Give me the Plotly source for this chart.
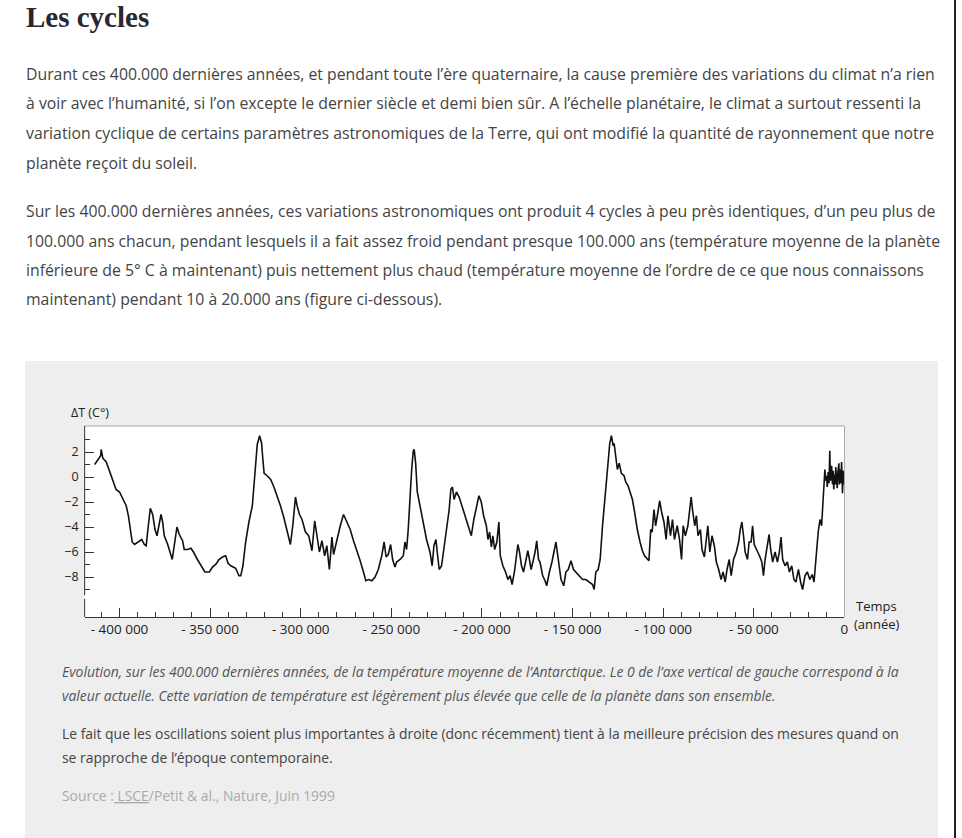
import plotly.graph_objects as go

W, H = 962, 838

# Antarctic temperature anomaly (°C) vs time (years)
years = [
    -413700, -411900, -410400, -410100, -409200, -407300, -405500, -403700, -401900, -400000,
    -398200, -396300, -395100, -394000, -393000, -391700, -389900, -387700, -386300, -385300,
    -384100, -383000, -381700, -380400, -379300, -378200, -377100, -376200, -375300, -373400,
    -372000, -370900, -369800, -368300, -367000, -365200, -364300, -362500, -360600, -359200,
    -357000, -354800, -352900, -350400, -348700, -346900, -345100, -343200, -341400, -340100,
    -338600, -335900, -334100, -333100,
    -331900, -330400, -328600, -326700, -325800, -324900, -324000, -322700, -321600, -320900,
    -320200, -318500, -316600, -314800, -313000, -311200, -309400, -307500, -305700, -304400,
    -302900, -302000, -300700, -299300, -297400, -295600, -293800, -292300, -291000, -289700,
    -288300, -286800, -285600, -284200, -282800, -281900, -280600, -279500, -278200, -276400,
    -274600, -272700, -270900, -269100, -267200, -265400, -264100, -262600, -260800, -259000,
    -257200, -255300, -254000, -252900, -251700, -250400, -249300, -248000,
    -247100, -245200, -243400, -242500, -241600, -240700, -239700, -238800, -237900, -237400,
    -236600, -235700, -234200, -232400, -230600, -228700, -227500, -226500, -225400, -224700,
    -223600, -222300, -220500, -219200, -218100, -217200, -216300, -215400, -214100, -212600,
    -211300, -209500, -207700, -205900, -204500, -203100, -201700, -200400, -199100, -197600,
    -196700, -195800, -194800, -194000, -193000, -191800, -190700, -189900, -188500, -187000,
    -185700, -184500, -183400, -182100, -181200, -180200, -179300, -178200, -177100, -176000,
    -174700, -173800, -172900, -171600, -170700, -169800, -168800, -168000, -166500, -165200,
    -164300, -162800, -161400,
    -159200, -157900, -156400, -154900, -153700, -152400, -150900, -149500, -148200, -146300,
    -144500, -142700, -140800, -139000, -138100, -137200, -135900, -134800, -133500, -132300,
    -131200, -130200, -129500, -128600, -127600, -127100, -126200, -125300, -124300, -123100,
    -121600, -120700, -119400, -118300, -117000, -115800, -114300, -112800, -111500, -110300,
    -108800, -107900, -106900, -106100, -105100, -104200, -102900, -102000, -100900, -99600,
    -98400, -97400, -96000, -94900, -93800, -92300, -91000, -89900, -89000, -87800,
    -86400, -85300, -84600, -83700, -82600, -81700, -80800, -79500, -78600, -77300,
    -76200,
    -75400, -74300, -73100, -71800, -70700, -69400, -68100, -67000, -65800, -64800,
    -63600, -62500, -61200, -59700, -58400, -57500, -56600, -55700, -54800, -53500,
    -52600, -51500, -50700, -49800, -48400, -46900, -45600, -44700, -43800, -42500,
    -41600, -40700, -39600, -38300, -37000, -35900, -35000, -34100, -32800, -31500,
    -30400, -29100, -27900, -26800, -25400, -24200, -23100, -21800, -20500, -19100,
    -17800, -16800, -16300, -15400, -14500, -13500, -12600, -12100, -11400,
    -10800, -10300, -9900, -9500, -9000, -8500, -8100, -7800, -7500, -7100,
    -6600, -6200, -5900, -5500, -5100, -4800, -4400, -4000, -3600, -3100,
    -2800, -2400, -2000, -1600, -1300, -1100, -700, -400, -100,
]
temps = [
    1.0, 1.4, 1.7, 2.2, 1.5, 1.2, 0.5, -0.2, -1.0, -1.2,
    -1.7, -2.3, -3.1, -4.4, -5.2, -5.4, -5.2, -5.0, -5.4, -5.5,
    -3.9, -2.5, -3.0, -4.2, -4.7, -3.9, -3.0, -3.6, -4.7, -5.4,
    -6.2, -6.6, -5.5, -4.0, -4.6, -5.1, -5.8, -5.8, -5.7, -6.0,
    -6.6, -7.1, -7.6, -7.6, -7.2, -7.0, -6.6, -6.4, -6.3, -6.9,
    -7.1, -7.3, -7.9, -7.9,
    -7.1, -5.2, -3.6, -2.3, -0.7, 1.4, 2.6, 3.3, 2.7, 1.4,
    0.3, 0.1, -0.2, -0.8, -1.5, -2.3, -3.2, -4.4, -5.4, -3.9,
    -1.6, -2.3, -3.0, -3.4, -4.4, -4.7, -5.9, -3.5, -4.7, -6.0,
    -5.1, -6.3, -5.5, -7.4, -4.8, -6.2, -5.4, -4.7, -3.9, -3.0,
    -3.6, -4.2, -5.1, -5.8, -6.7, -7.6, -8.3, -8.2, -8.3, -8.0,
    -7.4, -6.3, -5.2, -6.4, -6.2, -5.4, -6.6, -7.2,
    -6.8, -6.6, -6.3, -5.2, -5.8, -4.2, -1.2, 0.6, 2.1, 2.2,
    1.1, -1.2, -2.3, -3.6, -5.0, -6.0, -7.1, -5.5, -5.0, -6.0,
    -7.4, -7.1, -5.0, -3.4, -2.6, -1.0, -0.8, -1.8, -1.2, -1.6,
    -2.2, -3.0, -3.9, -4.7, -3.4, -2.3, -1.5, -2.0, -3.1, -3.9,
    -5.0, -4.4, -5.6, -4.7, -5.8, -5.2, -3.6, -6.3, -7.1, -7.6,
    -8.2, -7.9, -8.6, -7.6, -6.6, -5.4, -6.0, -7.1, -7.6, -6.8,
    -5.9, -6.6, -7.4, -6.6, -6.0, -5.1, -6.6, -6.8, -7.9, -8.3,
    -8.7, -7.6, -6.8,
    -5.2, -6.6, -8.2, -8.7, -7.6, -7.4, -6.7, -7.4, -7.6, -7.9,
    -8.2, -8.2, -8.4, -8.6, -9.0, -7.6, -7.4, -6.6, -3.9, -2.0,
    0.1, 1.4, 2.7, 3.3, 2.5, 2.7, 1.4, 0.6, 1.1, 0.3,
    0.1, -0.4, -0.7, -1.2, -1.8, -2.8, -4.2, -5.2, -5.9, -6.3,
    -6.6, -6.7, -4.2, -4.4, -2.6, -3.9, -2.8, -1.9, -2.8, -3.6,
    -5.0, -3.1, -4.7, -3.4, -5.0, -3.9, -5.0, -6.6, -3.9, -4.7,
    -3.9, -2.6, -1.6, -2.8, -3.9, -3.1, -4.7, -4.2, -5.8, -6.4,
    -5.0,
    -3.9, -6.0, -4.7, -5.5, -6.8, -7.4, -8.2, -7.6, -8.4, -7.4,
    -6.6, -7.9, -6.6, -6.0, -5.2, -4.2, -3.6, -4.7, -6.0, -6.6,
    -5.2, -5.2, -3.9, -5.4, -5.8, -6.3, -6.8, -7.9, -6.6, -5.2,
    -4.6, -5.8, -6.8, -6.0, -6.8, -6.0, -4.8, -6.6, -7.1, -6.8,
    -7.6, -7.1, -8.2, -8.4, -7.4, -8.4, -9.0, -7.9, -7.6, -8.2,
    -7.8, -8.4, -7.4, -5.8, -4.4, -3.4, -3.9, -2.6, -0.7,
    0.6, -0.3, 0.1, -0.8, 0.4, -0.5, 2.1, 0.2, -0.3, 0.9,
    -0.6, 0.5, -1.0, 0.2, -0.6, 0.8, -0.4, -0.9, 0.4, 1.1,
    -0.6, 0.6, -0.5, 1.2, 0.0, -1.3, 0.5, -0.6, 0.3,
]

x_range = [-419230, 0]
y_range = [-11.2, 4.08]
x_tick_vals = [-400000, -350000, -300000, -250000, -200000, -150000, -100000, -50000, 0]
x_tick_text = ["- 400 000", "- 350 000", "- 300 000", "- 250 000", "- 200 000",
               "- 150 000", "- 100 000", "- 50 000", "0"]
y_tick_vals = [-8, -6, -4, -2, 0, 2]
y_minor_vals = [-9, -7, -5, -3, -1, 1, 3]


def px(x):
    return x / W


def py(y):
    return 1 - y / H


fig = go.Figure()
fig.add_trace(go.Scatter(
    x=years, y=temps, mode="lines",
    line=dict(color="#111111", width=1.6),
    hoverinfo="skip", showlegend=False,
))

x_font = dict(family="Open Sans, Liberation Sans, sans-serif", size=13.5, color="#222222")
y_font = dict(family="Open Sans, Liberation Sans, sans-serif", size=12.5, color="#222222")

fig.update_layout(
    width=W, height=H, autosize=False,
    margin=dict(l=0, r=0, t=0, b=0, pad=0),
    paper_bgcolor="white", plot_bgcolor="white",
    showlegend=False,
    xaxis=dict(
        domain=[px(85), px(848)], range=x_range,
        tickmode="array", tickvals=x_tick_vals, ticktext=x_tick_text,
        ticks="inside", ticklen=9, tickwidth=1, tickcolor="#333333",
        showline=True, linecolor="#333333", linewidth=1,
        showgrid=False, zeroline=False, fixedrange=True,
        tickfont=x_font,
        minor=dict(dtick=10000, tick0=0, ticks="inside", ticklen=5,
                   tickwidth=1, tickcolor="#333333", showgrid=False),
    ),
    yaxis=dict(
        domain=[py(617), py(426)], range=y_range,
        tickmode="array", tickvals=y_tick_vals,
        ticks="inside", ticklen=9, tickwidth=1, tickcolor="#333333",
        ticklabelstandoff=5,
        showline=False, showgrid=False, zeroline=False, fixedrange=True,
        tickfont=y_font,
        minor=dict(tickvals=y_minor_vals, ticks="inside", ticklen=5,
                   tickwidth=1, tickcolor="#333333", showgrid=False),
    ),
)

shapes = [
    # grey figure box
    dict(type="rect", xref="paper", yref="paper", x0=px(25), x1=px(942), y0=0, y1=py(361),
         fillcolor="#eeeeee", line=dict(width=0), layer="below"),
    # white plot area
    dict(type="rect", xref="x domain", yref="y domain", x0=0, x1=1, y0=0, y1=1,
         fillcolor="white", line=dict(width=0), layer="below"),
    # top and right frame
    dict(type="line", xref="x domain", yref="y domain", x0=0, x1=1, y0=1, y1=1,
         line=dict(color="#a8a8a8", width=1)),
    dict(type="line", xref="x domain", yref="y domain", x0=1, x1=1, y0=0, y1=1,
         line=dict(color="#a8a8a8", width=1)),
    # broken y axis line
    dict(type="line", xref="x domain", yref="y", x0=0, x1=0, y0=y_range[0], y1=-9.75,
         line=dict(color="#333333", width=1)),
    dict(type="line", xref="x domain", yref="y", x0=0, x1=0, y0=-9.45, y1=y_range[1],
         line=dict(color="#333333", width=1)),
    # page right border
    dict(type="line", xref="paper", yref="paper", x0=px(959), x1=px(959), y0=0, y1=1,
         line=dict(color="#222222", width=2)),
]
fig.update_layout(shapes=shapes)

body_font = "Open Sans, Liberation Sans, sans-serif"
annotations = []


def add_text(text, x, y, size, color, family=body_font, xanchor="left"):
    annotations.append(dict(
        text=text, x=px(x), y=py(y), xref="paper", yref="paper",
        xanchor=xanchor, yanchor="middle", showarrow=False, align="left",
        font=dict(family=family, size=size, color=color),
    ))


add_text("<b>Les cycles</b>", 24, 17, 29, "#2b2631", family="Liberation Serif, serif")

para_lines = [
    ("Durant ces 400.000 dernières années, et pendant toute l’ère quaternaire, la cause première des variations du climat n’a rien", 74),
    ("à voir avec l’humanité, si l’on excepte le dernier siècle et demi bien sûr. A l’échelle planétaire, le climat a surtout ressenti la", 103),
    ("variation cyclique de certains paramètres astronomiques de la Terre, qui ont modifié la quantité de rayonnement que notre", 133),
    ("planète reçoit du soleil.", 163),
    ("Sur les 400.000 dernières années, ces variations astronomiques ont produit 4 cycles à peu près identiques, d’un peu plus de", 211),
    ("100.000 ans chacun, pendant lesquels il a fait assez froid pendant presque 100.000 ans (température moyenne de la planète", 241),
    ("inférieure de 5° C à maintenant) puis nettement plus chaud (température moyenne de l’ordre de ce que nous connaissons", 270),
    ("maintenant) pendant 10 à 20.000 ans (figure ci-dessous).", 299),
]
for txt, yy in para_lines:
    add_text(txt, 24, yy, 15.8, "#444444")

add_text("ΔT (C°)", 69, 413, 12.5, "#222222")
add_text("Temps", 858, 606, 13, "#222222")
add_text("(année)", 856, 624, 13, "#222222")

add_text("<i>Evolution, sur les 400.000 dernières années, de la température moyenne de l’Antarctique. Le 0 de l’axe vertical de gauche correspond à la</i>", 60, 671, 13.9, "#555555")
add_text("<i>valeur actuelle. Cette variation de température est légèrement plus élevée que celle de la planète dans son ensemble.</i>", 60, 695, 13.9, "#555555")
add_text("Le fait que les oscillations soient plus importantes à droite (donc récemment) tient à la meilleure précision des mesures quand on", 60, 733, 13.9, "#444444")
add_text("se rapproche de l’époque contemporaine.", 60, 757, 13.9, "#444444")
add_text("Source :<u> LSCE</u>/Petit &amp; al., Nature, Juin 1999", 60, 795, 13.9, "#aaaaaa")

fig.update_layout(annotations=annotations)

fig.write_html("out.html", config={"displayModeBar": False, "staticPlot": True},
               post_script="document.body.style.margin='0px';document.body.style.overflow='hidden';")
